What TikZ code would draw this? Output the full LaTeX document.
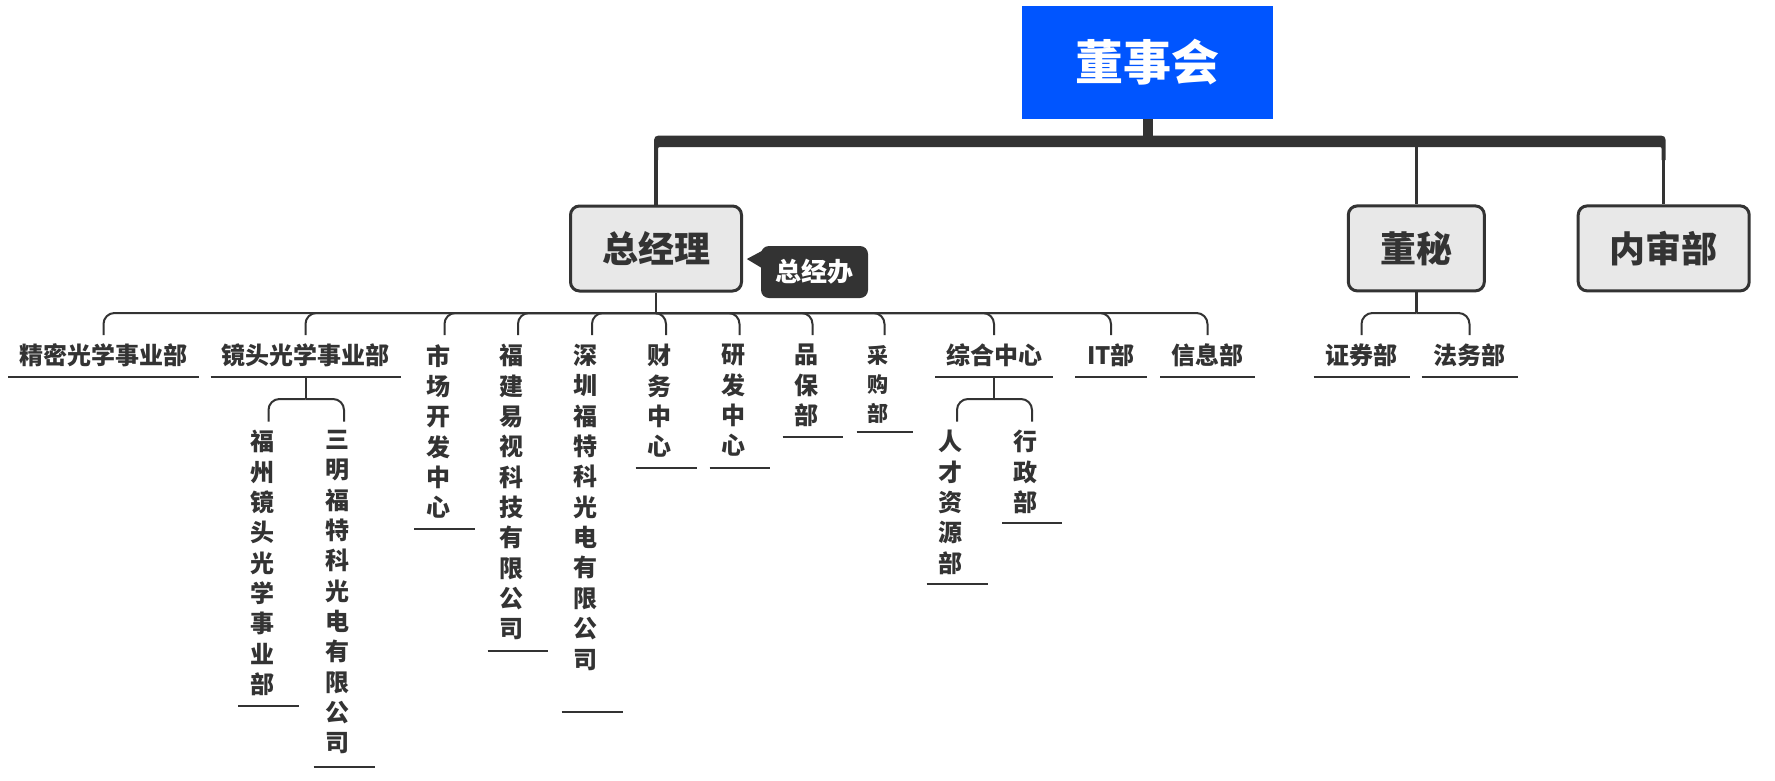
\documentclass[tikz,border=0pt]{standalone}
\usepackage{fontspec}
\setmainfont{Noto Sans CJK SC}
\usetikzlibrary{calc}
\definecolor{dk}{HTML}{333333}
\definecolor{boardblue}{HTML}{0055FF}
\definecolor{boxgray}{HTML}{E8E8E8}
\tikzset{
  mainbox/.style={draw=dk, line width=3pt, fill=boxgray, rounded corners=9pt, text=dk,
    font=\fontsize{36}{40}\selectfont\bfseries, inner sep=0pt, minimum height=85pt},
  board/.style={fill=boardblue, text=white, font=\fontsize{48}{52}\selectfont\bfseries,
    inner sep=0pt, minimum width=251pt, minimum height=113pt},
  callout/.style={fill=dk, text=white, rounded corners=8pt, font=\fontsize{26}{30}\selectfont\bfseries,
    inner sep=0pt, minimum width=107pt, minimum height=52pt},
  htext/.style={text=dk, font=\fontsize{24}{30.35}\selectfont\bfseries, inner sep=0pt, anchor=center},
  vtext/.style={htext, align=center, anchor=north},
  smalltext/.style={font=\fontsize{21}{29}\selectfont\bfseries},
  uline/.style={draw=dk, line width=2pt},
  lvone/.style={draw=dk, line width=3.5pt},
  lvtwo/.style={draw=dk, line width=2pt, rounded corners=11pt},
}
\newcommand\htopic[4]{%
  \node[htext] (#1) at (#2,355) {#3};
  \coordinate (#1-t) at (#2,335);
  \coordinate (#1-u) at (#2,377);
  \draw[uline] ([xshift=-#4pt]#1-u) -- ([xshift=#4pt]#1-u);
}
\newcommand\vtopic[8][]{%
  \node[vtext,#1] (#2) at (#3-6.5,#4) {#5};
  \coordinate (#2-t) at (#3,#8);
  \coordinate (#2-u) at (#3,#6);
  \draw[uline] ([xshift=-#7pt]#2-u) -- ([xshift=#7pt]#2-u);
}
\begin{document}
\begin{tikzpicture}[x=1pt,y=-1pt]
\fill[white] (0,0) rectangle (1775,780);
\useasboundingbox (0,0) rectangle (1775,780);

% top level boxes
\node[board] (dsh) at (1147.5,62.5) {董事会};
\node[mainbox, minimum width=171pt] (zjl) at (656,248.5) {总经理};
\node[mainbox, minimum width=136pt] (dm) at (1416.3,248.4) {董秘};
\node[mainbox, minimum width=171pt] (nsb) at (1663.7,248.4) {内审部};

% callout
\node[callout] (zjb) at (814.5,272) {总经办};
\fill[dk] ($(zjb.west)+(1,-21)$) -- ($(zjb.west)+(-14,-13)$) -- ($(zjb.west)+(1,-4)$) -- cycle;

% thick bar
\coordinate (barc) at (1147.5,141);
\draw[dk, line width=10pt] (dsh.south) -- (barc);
\fill[dk] (654,160) -- (654,145.5) .. controls (654,135.5) .. (664,135.5)
  -- (1655.7,135.5) .. controls (1665.7,135.5) .. (1665.7,145.5) -- (1665.7,160)
  -- (1661.7,160) -- (1661.7,151) .. controls (1661.7,147) .. (1657.7,147)
  -- (662,147) .. controls (658,147) .. (658,151) -- (658,160) -- cycle;
\draw[lvone] (zjl.north |- barc) -- (zjl.north);
\draw[lvone] (dm.north |- barc) -- (dm.north);
\draw[lvone] (nsb.north |- barc) -- (nsb.north);

% level 2 under 总经理
\coordinate (jone) at (656,313);
\draw[draw=dk, line width=2.5pt] (zjl.south) -- (jone);
\htopic{jmgx}{103.5}{精密光学事业部}{95.5}
\htopic{jtgx}{305.5}{镜头光学事业部}{95}
\vtopic{scfz}{444.5}{344}{市\\场\\开\\发\\中\\心}{529}{30.5}{335}
\vtopic{fjys}{518}{344}{福\\建\\易\\视\\科\\技\\有\\限\\公\\司}{651}{30.3}{335}
\vtopic{szft}{592}{344}{深\\圳\\福\\特\\科\\光\\电\\有\\限\\公\\司}{712}{30.5}{335}
\vtopic{cwzx}{666}{344}{财\\务\\中\\心}{468}{30.5}{335}
\vtopic{yfzx}{739.5}{344}{研\\发\\中\\心}{468}{30}{335}
\vtopic{pbb}{812.5}{344}{品\\保\\部}{437}{30}{335}
\vtopic[smalltext]{cgb}{884.5}{345}{采\\购\\部}{432}{28}{335}
\htopic{zhzx}{994}{综合中心}{59}
\htopic{itb}{1111}{IT部}{36}
\htopic{xxb}{1207.5}{信息部}{47.5}
\foreach \c in {jmgx,jtgx,scfz,fjys,szft,cwzx,yfzx,pbb,cgb,zhzx,itb,xxb}
  \draw[lvtwo] (jone) -| (\c-t);

% level 3 under 镜头光学事业部
\coordinate (jthree) at (305.5,399);
\draw[lvtwo] (jtgx-u) -- (jthree);
\vtopic{fzjt}{268.5}{430}{福\\州\\镜\\头\\光\\学\\事\\业\\部}{706}{30.5}{421.7}
\vtopic{smft}{344}{430}{三\\明\\福\\特\\科\\光\\电\\有\\限\\公\\司}{767}{30.5}{421.7}
\draw[lvtwo] (jthree) -| (fzjt-t);
\draw[lvtwo] (jthree) -| (smft-t);

% level 3 under 综合中心
\coordinate (jfour) at (994,399);
\draw[lvtwo] (zhzx-u) -- (jfour);
\vtopic{rczy}{957}{430}{人\\才\\资\\源\\部}{584}{30.5}{421.7}
\vtopic{xzb}{1032}{430}{行\\政\\部}{523}{30}{421.7}
\draw[lvtwo] (jfour) -| (rczy-t);
\draw[lvtwo] (jfour) -| (xzb-t);

% under 董秘
\coordinate (jtwo) at (1416.3,313);
\draw[draw=dk, line width=2.5pt] (dm.south) -- (jtwo);
\htopic{zqb}{1361.5}{证券部}{48}
\htopic{fwb}{1469.5}{法务部}{48}
\draw[lvtwo] (jtwo) -| (zqb-t);
\draw[lvtwo] (jtwo) -| (fwb-t);
\end{tikzpicture}
\end{document}
